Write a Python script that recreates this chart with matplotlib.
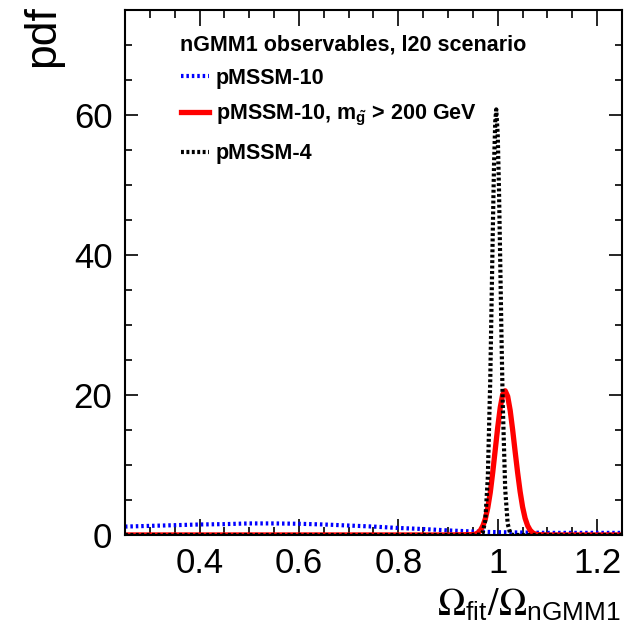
import matplotlib
matplotlib.use('agg')
import matplotlib.pyplot as plt
import matplotlib.ticker as ticker

plt.rcParams['font.family'] = ['Liberation Sans', 'DejaVu Sans']
plt.rcParams['mathtext.fontset'] = 'custom'
plt.rcParams['mathtext.rm'] = 'Liberation Sans:bold'
plt.rcParams['mathtext.it'] = 'Liberation Sans:italic:bold'

# pMSSM-10 (blue, broad)
x_blue = [0.25, 0.30, 0.35, 0.40, 0.45, 0.50, 0.55, 0.60, 0.65, 0.70, 0.75,
          0.80, 0.85, 0.90, 0.95, 1.00, 1.05, 1.10, 1.15, 1.20, 1.25]
y_blue = [1.2, 1.3, 1.4, 1.5, 1.55, 1.65, 1.65, 1.6, 1.5, 1.35, 1.2,
          1.0, 0.85, 0.65, 0.5, 0.4, 0.35, 0.3, 0.3, 0.3, 0.3]

# pMSSM-10, m_gluino > 200 GeV (red)
x_red = [0.25, 0.90, 0.95, 0.955, 0.96, 0.965, 0.97, 0.975, 0.98, 0.985, 0.99,
         0.995, 1.0, 1.005, 1.01, 1.015, 1.02, 1.025, 1.03, 1.035, 1.04,
         1.045, 1.05, 1.055, 1.06, 1.065, 1.07, 1.075, 1.08, 1.10, 1.25]
y_red = [0.0, 0.0, 0.05, 0.12, 0.3, 0.65, 1.3, 2.3, 3.9, 6.1, 9.0,
         12.2, 15.4, 18.2, 20.1, 20.6, 19.8, 17.8, 15.0, 11.9, 8.9,
         6.2, 4.0, 2.4, 1.35, 0.7, 0.33, 0.14, 0.05, 0.0, 0.0]

# pMSSM-4 (black, narrow)
x_black = [0.25, 0.95, 0.965, 0.97, 0.975, 0.98, 0.985, 0.99, 0.9925, 0.995,
           0.997, 1.0, 1.0025, 1.005, 1.0075, 1.01, 1.015, 1.02, 1.025, 1.03, 1.25]
y_black = [0.0, 0.0, 0.05, 0.4, 2.1, 8.2, 22.4, 43.3, 52.9, 59.1,
           60.8, 57.1, 49.3, 39.0, 28.4, 18.9, 6.5, 1.6, 0.26, 0.0, 0.0]

fig = plt.figure(figsize=(6.36, 6.41), dpi=100)
ax = fig.add_axes([0.1965, 0.1654, 0.7815, 0.819])

l1, = ax.plot(x_blue, y_blue, color='#0000ff', lw=3.0, dashes=(0.6, 0.7),
              label='pMSSM-10')
l2, = ax.plot(x_red, y_red, color='#ff0000', lw=3.8,
              label=r'pMSSM-10, m$_{\tilde{\rm g}}$ > 200 GeV')
l3, = ax.plot(x_black, y_black, color='k', lw=3.0, dashes=(0.7, 0.6),
              label='pMSSM-4')

ax.set_xlim(0.25, 1.25)
ax.set_ylim(0, 75)

ax.xaxis.set_major_locator(ticker.MultipleLocator(0.2))
ax.xaxis.set_minor_locator(ticker.MultipleLocator(0.05))
ax.yaxis.set_major_locator(ticker.MultipleLocator(20))
ax.yaxis.set_minor_locator(ticker.MultipleLocator(5))
ax.xaxis.set_major_formatter(ticker.FuncFormatter(lambda v, p: ('%g' % round(v, 2))))

ax.tick_params(axis='both', which='both', direction='in', top=True, right=True,
               labelsize=25, width=1.2)
ax.tick_params(axis='x', which='major', length=11.5, pad=9)
ax.tick_params(axis='x', which='minor', length=6)
ax.tick_params(axis='y', which='major', length=9.5, pad=9)
ax.tick_params(axis='y', which='minor', length=5)
for sp in ax.spines.values():
    sp.set_linewidth(1.5)

ax.set_xlabel(r'$\Omega_{\mathregular{fit}}/\Omega_{\mathregular{nGMM1}}$', fontsize=27,
              math_fontfamily='stix', ha='right')
ax.xaxis.set_label_coords(0.997, -0.1)
ax.set_ylabel('pdf', fontsize=32, ha='right')
ax.yaxis.set_label_coords(-0.125, 1.01)

ax.text(0.11, 0.933, 'nGMM1 observables, l20 scenario', transform=ax.transAxes,
        fontsize=15.5, fontweight='bold', va='center')
ax.legend(handles=[l1, l2, l3], loc='upper left', bbox_to_anchor=(0.113, 0.89),
          frameon=False, prop={'weight': 'bold', 'size': 15.5},
          handlelength=1.3, handletextpad=0.3, labelspacing=0.68, borderaxespad=0,
          borderpad=0)

plt.savefig('out.png', dpi=100)
